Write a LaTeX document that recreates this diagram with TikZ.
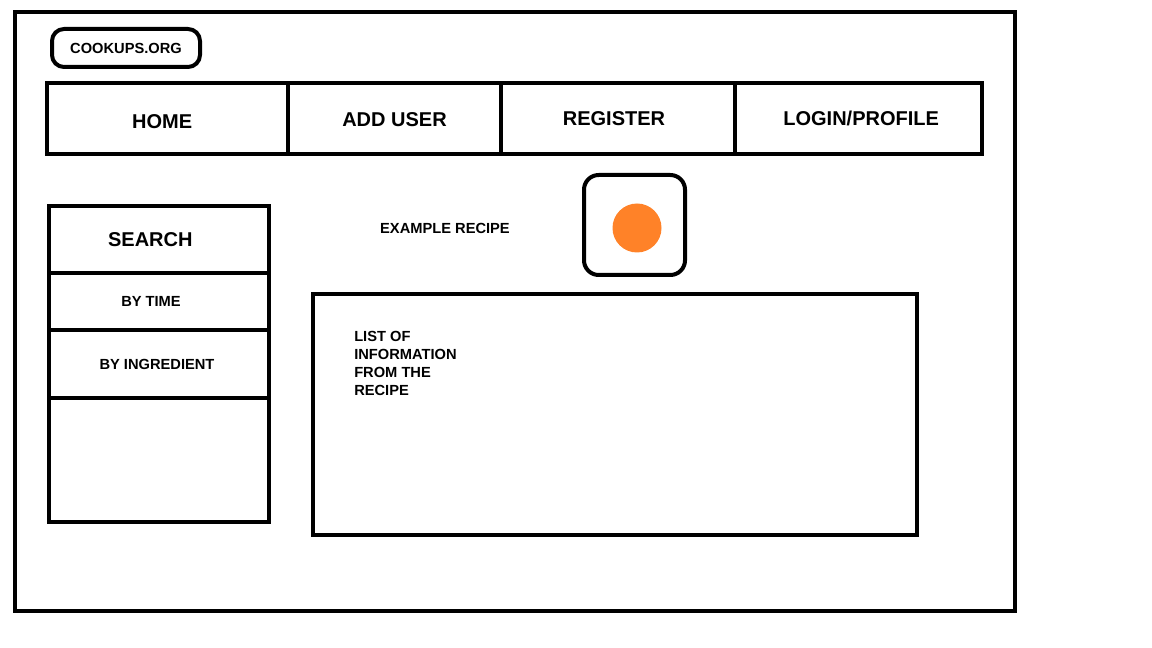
\documentclass[tikz,border=0pt]{standalone}
\usepackage{fontspec}
\setmainfont{Liberation Sans}
\definecolor{dotorange}{RGB}{255,130,40}
\tikzset{
  box/.style={draw, line width=3pt, rectangle, inner sep=0pt},
  small/.style={font=\bfseries\fontsize{11}{13.5}\selectfont},
  big/.style={font=\bfseries\fontsize{15}{18}\selectfont},
}
\begin{document}
\begin{tikzpicture}[x=0.75pt,y=-0.75pt]
\useasboundingbox (0,0) rectangle (1152,648);
% outer frame
\node[box, minimum width=1000*0.75pt, minimum height=599*0.75pt] (frame) at (515,311.5) {};
% logo
\node[box, small, rounded corners=9pt, minimum width=148*0.75pt, minimum height=38*0.75pt] (logo) at (126,48) {COOKUPS.ORG};
% nav bar
\node[box, minimum width=241*0.75pt, minimum height=71*0.75pt, label={[big, xshift=-4pt, yshift=-2pt]center:HOME}] (home) at (167.5,118.5) {};
\node[box, minimum width=213*0.75pt, minimum height=71*0.75pt, label={[big, yshift=-1pt]center:ADD USER}] (adduser) at (394.5,118.5) {};
\node[box, minimum width=234*0.75pt, minimum height=71*0.75pt, label={[big, xshift=-3pt]center:REGISTER}] (register) at (618,118.5) {};
\node[box, minimum width=247*0.75pt, minimum height=71*0.75pt, label={[big, xshift=2pt]center:LOGIN/PROFILE}] (login) at (858.5,118.5) {};
% search panel
\node[box, minimum width=220*0.75pt, minimum height=67*0.75pt, label={[big, xshift=-6.5pt]center:SEARCH}] (search) at (159,239.5) {};
\node[box, minimum width=220*0.75pt, minimum height=57*0.75pt, label={[small, xshift=-6pt]center:BY TIME}] (bytime) at (159,301.5) {};
\node[box, minimum width=220*0.75pt, minimum height=68*0.75pt, label={[small, xshift=-1.5pt]center:BY INGREDIENT}] (byingr) at (159,364) {};
\node[box, minimum width=220*0.75pt, minimum height=124*0.75pt] (empty) at (159,460) {};
% example recipe
\node[small, inner sep=0pt] (title) at (445,228.5) {EXAMPLE RECIPE};
\node[box, rounded corners=11pt, minimum width=101*0.75pt, minimum height=100*0.75pt] (holder) at (634.5,225) {};
\node[circle, fill=dotorange, minimum size=49*0.75pt, inner sep=0pt] (dot) at (637,228) {};
% info box
\node[box, minimum width=604*0.75pt, minimum height=241*0.75pt] (info) at (615,414.5) {};
\node[small, align=left, anchor=north west, inner sep=0pt] (infotext) at (354,330.5) {LIST OF\\INFORMATION\\FROM THE\\RECIPE};
\end{tikzpicture}
\end{document}
